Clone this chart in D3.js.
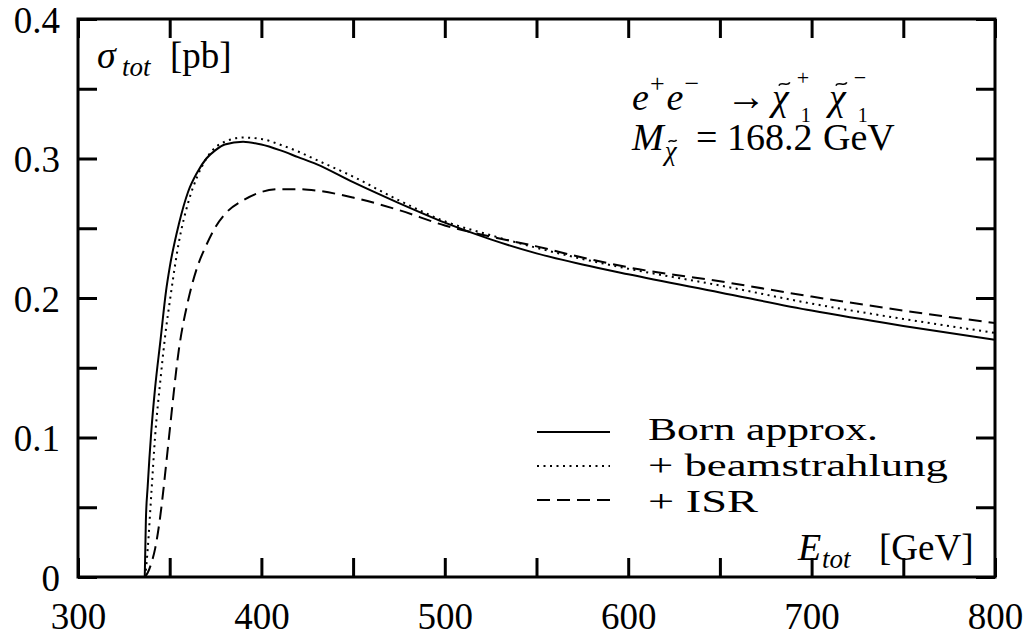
<!DOCTYPE html>
<html>
<head>
<meta charset="utf-8">
<script src="https://cdn.jsdelivr.net/npm/d3@7"></script>
<style>
  html, body { margin: 0; padding: 0; background: #fff; }
  svg { display: block; }
  text { font-family: "Liberation Serif", "DejaVu Serif", serif; fill: #000; }
</style>
</head>
<body>
<svg id="chart" width="1030" height="637"></svg>
<script>
// ---- data ----
const energy = [336.4, 337, 338, 340, 342, 345, 348, 350, 355, 360, 365, 370, 375, 380, 390, 400, 410, 420, 430, 450, 475, 500, 525, 550, 575, 600, 650, 700, 750, 800];
const born = [0, 0.04, 0.065, 0.105, 0.135, 0.170, 0.205, 0.222, 0.253, 0.276, 0.290, 0.300, 0.306, 0.310, 0.312, 0.310, 0.306, 0.301, 0.296, 0.283, 0.268, 0.254, 0.242, 0.232, 0.224, 0.217, 0.204, 0.191, 0.180, 0.170];
const beam = [0, 0.005, 0.02, 0.06, 0.10, 0.142, 0.178, 0.197, 0.240, 0.268, 0.287, 0.300, 0.308, 0.312, 0.315, 0.314, 0.310, 0.305, 0.299, 0.287, 0.270, 0.255, 0.245, 0.236, 0.228, 0.221, 0.209, 0.196, 0.185, 0.175];
const isr = [0, 0.001, 0.003, 0.01, 0.02, 0.045, 0.08, 0.105, 0.163, 0.198, 0.222, 0.238, 0.251, 0.260, 0.270, 0.276, 0.278, 0.278, 0.277, 0.272, 0.263, 0.252, 0.244, 0.237, 0.229, 0.222, 0.212, 0.201, 0.191, 0.182];
const seriesNames = ["Born approx.", "+ beamstrahlung", "+ ISR"];
const xTicks = [300, 350, 400, 450, 500, 550, 600, 650, 700, 750, 800];
const xLabels = [300, 400, 500, 600, 700, 800];
const yTicks = [0, 0.05, 0.1, 0.15, 0.2, 0.25, 0.3, 0.35, 0.4];
const yLabels = [0, 0.1, 0.2, 0.3, 0.4];

// ---- layout ----
const L = 78, R = 995, T = 19, B = 577;
const svg = d3.select("#chart");
const x = d3.scaleLinear().domain([300, 800]).range([L, R]);
const y = d3.scaleLinear().domain([0, 0.4]).range([B, T]);
const tickLen = 19;

const fmtY = d => (yLabels.some(v => Math.abs(v - d) < 1e-9) ? (d === 0 ? "0" : d3.format(".1f")(d)) : "");
const fmtX = d => (xLabels.includes(d) ? String(d) : "");

function styleAxis(g) {
  g.select(".domain").remove();
  g.attr("font-family", null);
  g.selectAll(".tick line").attr("stroke", "#000").attr("stroke-width", 3);
  g.selectAll(".tick text").style("font-family", "'Liberation Serif', serif").style("font-size", "37px").attr("fill", "#000");
}

svg.append("g").attr("transform", `translate(0,${B})`)
  .call(d3.axisBottom(x).tickValues(xTicks).tickSize(-tickLen).tickPadding(15).tickFormat(fmtX))
  .call(styleAxis)
  .call(g => g.selectAll(".tick text").attr("dy", "1.0em"));
svg.append("g").attr("transform", `translate(0,${T})`)
  .call(d3.axisTop(x).tickValues(xTicks).tickSize(-tickLen).tickFormat(""))
  .call(styleAxis);
svg.append("g").attr("transform", `translate(${L},0)`)
  .call(d3.axisLeft(y).tickValues(yTicks).tickSize(-tickLen).tickPadding(18).tickFormat(fmtY))
  .call(styleAxis)
  .call(g => g.selectAll(".tick text").attr("dy", "0.36em"));
svg.append("g").attr("transform", `translate(${R},0)`)
  .call(d3.axisRight(y).tickValues(yTicks).tickSize(-tickLen).tickFormat(""))
  .call(styleAxis);

// frame
svg.append("rect").attr("x", L).attr("y", T).attr("width", R - L).attr("height", B - T)
  .attr("fill", "none").attr("stroke", "#000").attr("stroke-width", 3);

// curves
svg.append("clipPath").attr("id", "clip").append("rect")
  .attr("x", L).attr("y", T).attr("width", R - L).attr("height", B - T);
const line = d3.line().x(d => x(d[0])).y(d => y(d[1])).curve(d3.curveMonotoneX);
const series = [
  { vals: born, dash: null },
  { vals: beam, dash: "2,4.5" },
  { vals: isr, dash: "13,7" }
];
const plot = svg.append("g").attr("clip-path", "url(#clip)");
series.forEach(s => {
  plot.append("path")
    .attr("d", line(energy.map((e, i) => [e, s.vals[i]])))
    .attr("fill", "none").attr("stroke", "#000").attr("stroke-width", 2)
    .attr("stroke-dasharray", s.dash);
});

// legend
const legY = [432, 466, 500];
const legBase = [440, 476, 512];
const legW = [230, 300, 110];
series.forEach((s, i) => {
  svg.append("line").attr("x1", 537).attr("x2", 610).attr("y1", legY[i]).attr("y2", legY[i])
    .attr("stroke", "#000").attr("stroke-width", 2).attr("stroke-dasharray", s.dash);
  svg.append("text").attr("x", 648).attr("y", legBase[i])
    .style("font-size", "32px")
    .attr("textLength", legW[i]).attr("lengthAdjust", "spacingAndGlyphs")
    .text(seriesNames[i]);
});

// helper: place a text piece, returns its right edge
function piece(px, py, str, size, italic) {
  const t = svg.append("text").attr("x", px).attr("y", py)
    .style("font-size", size + "px").style("font-style", italic ? "italic" : "normal").text(str);
  return px + t.node().getComputedTextLength();
}
// helper: small tilde accent drawn as a path
function tilde(cx, cy, w) {
  const h = w * 0.28;
  svg.append("path")
    .attr("d", `M${cx - w / 2},${cy + h / 2} C${cx - w / 4},${cy - h * 1.2} ${cx + w / 4},${cy + h * 1.2} ${cx + w / 2},${cy - h / 2}`)
    .attr("fill", "none").attr("stroke", "#000").attr("stroke-width", 1.6);
}
// chargino symbol with stacked super/subscript
function chargino(px, py, sup) {
  const w = piece(px, py, "χ", 38, true) - px;
  tilde(px + w / 2 + 4, py - 26, 11);
  piece(px + w + 8, py - 25, sup, 22, false);
  piece(px + w + 12, py + 12, "1", 20, false);
}

// axis titles
piece(97, 68, "σ", 38, true);
piece(122, 76, "tot", 27, true);
piece(170, 68, "[pb]", 37, false);

piece(798, 560, "E", 38, true);
piece(822, 568, "tot", 27, true);
piece(879, 560, "[GeV]", 37, false);

// process annotation: e+e- -> chi~1+ chi~1-
let cx = piece(632, 110, "e", 38, true);
cx = piece(cx + 1, 92, "+", 26, false);
cx = piece(cx + 2, 110, "e", 38, true);
cx = piece(cx + 1, 92, "−", 26, false);
piece(726, 110, "→", 40, false);
chargino(772, 110, "+");
chargino(829, 110, "−");

// mass annotation
cx = piece(632, 150, "M", 38, true);
const mR = piece(cx + 1, 160, "χ", 27, true);
tilde((cx + 1 + mR) / 2 + 2, 141, 8);
piece(696, 150, "=", 38, false);
piece(727, 150, "168.2", 38, false);
piece(823, 150, "GeV", 38, false);
</script>
</body>
</html>
